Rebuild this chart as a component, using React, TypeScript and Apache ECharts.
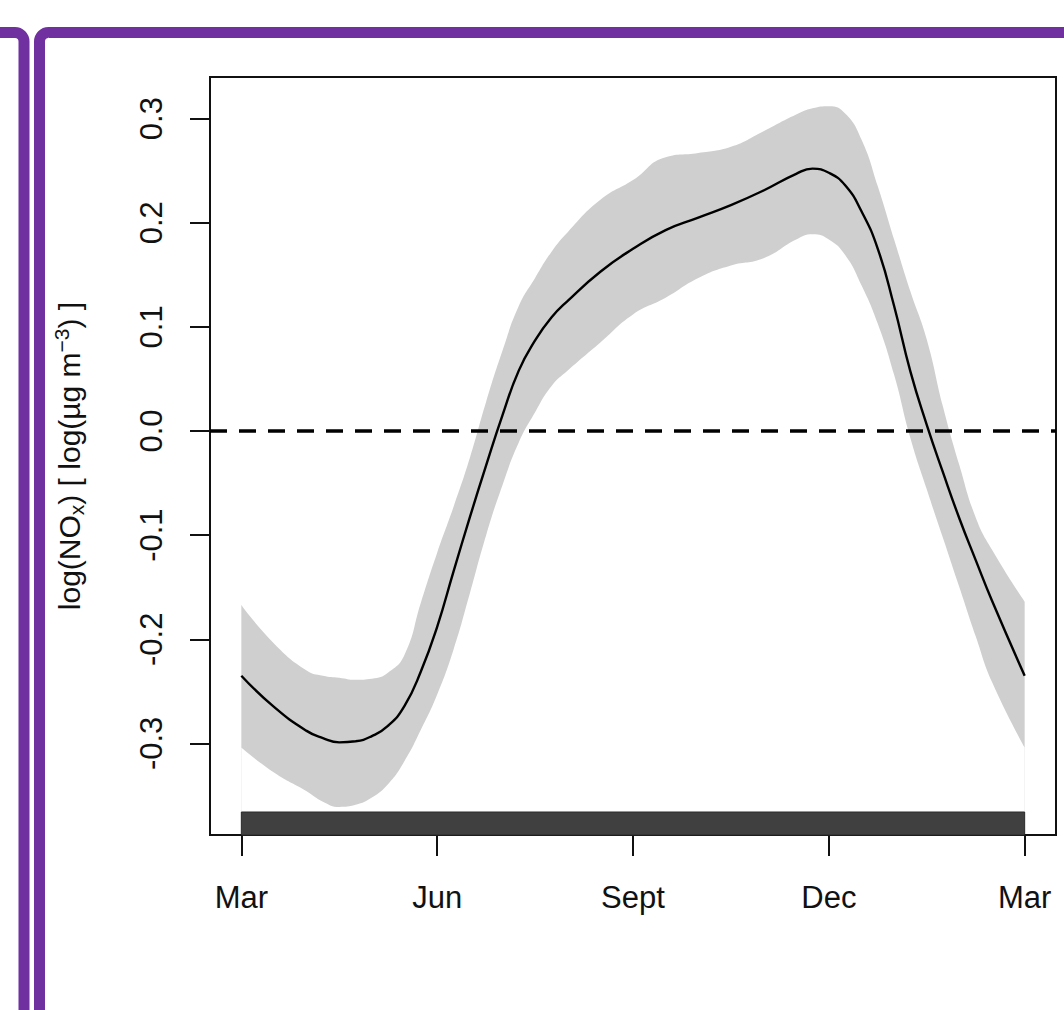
import React, { useEffect, useRef } from "react";
import * as echarts from "echarts";

// Seasonal smooth term for log(NOx): months counted from March (0) to the next March (12).
const months = [
  0, 0.5, 1, 1.25, 1.5, 1.75, 2, 2.25, 2.5, 2.75, 3, 3.25, 3.5, 3.75, 4, 4.25, 4.5, 4.75,
  5, 5.5, 6, 6.5, 7, 7.5, 8, 8.5, 8.75, 9, 9.25, 9.5, 9.75, 10, 10.25, 10.5, 10.75, 11,
  11.25, 11.5, 12,
];
const fitValues = [
  -0.235, -0.265, -0.288, -0.295, -0.299, -0.298, -0.293, -0.283, -0.264, -0.231, -0.188,
  -0.135, -0.083, -0.033, 0.015, 0.058, 0.087, 0.109, 0.125, 0.153, 0.175, 0.193, 0.205,
  0.217, 0.231, 0.247, 0.252, 0.248, 0.236, 0.211, 0.175, 0.12, 0.057, 0.006, -0.04,
  -0.084, -0.124, -0.163, -0.235,
];
const upperValues = [
  -0.167, -0.204, -0.23, -0.235, -0.237, -0.239, -0.238, -0.232, -0.215, -0.165, -0.117,
  -0.073, -0.026, 0.028, 0.077, 0.12, 0.147, 0.172, 0.191, 0.222, 0.241, 0.263, 0.267,
  0.273, 0.288, 0.304, 0.31, 0.312, 0.305, 0.28, 0.235, 0.184, 0.134, 0.088, 0.023,
  -0.033, -0.083, -0.114, -0.164,
];
const lowerValues = [
  -0.304, -0.328, -0.346, -0.356, -0.361, -0.359, -0.352, -0.339, -0.317, -0.287, -0.253,
  -0.21, -0.156, -0.1, -0.052, -0.011, 0.018, 0.043, 0.058, 0.085, 0.112, 0.128, 0.147,
  0.159, 0.166, 0.184, 0.189, 0.184, 0.169, 0.14, 0.103, 0.054, -0.007, -0.056, -0.103,
  -0.15, -0.197, -0.241, -0.304,
];

const xTickValues = [0, 3, 6, 9, 12];
const xTickLabels = ["Mar", "Jun", "Sept", "Dec", "Mar"];
const yTickValues = [-0.3, -0.2, -0.1, 0, 0.1, 0.2, 0.3];
// Observation dates cover the whole seasonal cycle.
const rugSpan = [0, 12];

const FONT = "'Liberation Sans', Arial, Helvetica, sans-serif";
const PURPLE = "#7030a0";
const SMOOTH = 0.5;
const Y_MIN = -0.388;
const Y_MAX = 0.34;
// Band areas are filled down to this level (just above the rug).
const AREA_FLOOR = -0.37;

export default function App() {
  const ref = useRef<HTMLDivElement>(null);

  useEffect(() => {
    if (!ref.current) return;
    const chart = echarts.init(ref.current, undefined, { renderer: "svg" });

    const upperData = months.map((m, i) => [m, upperValues[i]]);
    const lowerData = months.map((m, i) => [m, lowerValues[i]]);
    const fitData = months.map((m, i) => [m, fitValues[i]]);

    chart.setOption({
      animation: false,
      backgroundColor: "#ffffff",
      textStyle: { fontFamily: FONT },
      graphic: [
        {
          type: "rect",
          silent: true,
          shape: { x: 39.5, y: 32.5, width: 1200, height: 1200, r: 9 },
          style: { fill: "none", stroke: PURPLE, lineWidth: 11 },
        },
        {
          type: "rect",
          silent: true,
          shape: { x: -1176, y: 32.5, width: 1200, height: 1200, r: 9 },
          style: { fill: "none", stroke: PURPLE, lineWidth: 11 },
        },
      ],
      grid: {
        left: 210,
        top: 77,
        width: 846,
        height: 758,
        show: true,
        borderColor: "#111",
        borderWidth: 2,
        backgroundColor: "transparent",
      },
      xAxis: {
        type: "value",
        min: -0.48,
        max: 12.48,
        splitLine: { show: false },
        axisLine: { show: false, onZero: false },
        axisTick: {
          show: true,
          customValues: xTickValues,
          length: 21,
          inside: false,
          lineStyle: { color: "#111", width: 2 },
        },
        axisLabel: {
          customValues: xTickValues,
          margin: 47,
          fontSize: 31,
          fontFamily: FONT,
          color: "#111",
          formatter: (v: number) => xTickLabels[xTickValues.indexOf(v)] ?? "",
        },
      },
      yAxis: {
        type: "value",
        min: Y_MIN,
        max: Y_MAX,
        splitLine: { show: false },
        axisLine: { show: false, onZero: false },
        axisTick: {
          show: true,
          customValues: yTickValues,
          length: 20,
          inside: false,
          lineStyle: { color: "#111", width: 2 },
        },
        axisLabel: {
          customValues: yTickValues,
          rotate: 90,
          margin: 43,
          fontSize: 31,
          fontFamily: FONT,
          color: "#111",
          formatter: (v: number) => v.toFixed(1),
        },
        name: "{a|log(NO}{b|x}{a|) [ log(µg m}{c|−3}{a|) ]}",
        nameLocation: "middle",
        nameRotate: 90,
        nameGap: 123,
        nameTextStyle: {
          fontFamily: FONT,
          fontSize: 30,
          color: "#111",
          rich: {
            a: { fontFamily: FONT, fontSize: 30, color: "#111", lineHeight: 36, verticalAlign: "middle" },
            b: { fontFamily: FONT, fontSize: 21, color: "#111", lineHeight: 22, verticalAlign: "bottom" },
            c: { fontFamily: FONT, fontSize: 21, color: "#111", lineHeight: 20, verticalAlign: "top" },
          },
        },
      },
      series: [
        {
          // grey confidence band: filled below the upper bound...
          name: "upper",
          type: "line",
          data: upperData,
          smooth: SMOOTH,
          symbol: "none",
          lineStyle: { width: 0, opacity: 0 },
          areaStyle: { color: "#cfcfcf", opacity: 1, origin: AREA_FLOOR },
          silent: true,
          z: 1,
        },
        {
          // ...and cleared again below the lower bound
          name: "lower",
          type: "line",
          data: lowerData,
          smooth: SMOOTH,
          symbol: "none",
          lineStyle: { width: 0, opacity: 0 },
          areaStyle: { color: "#ffffff", opacity: 1, origin: AREA_FLOOR },
          silent: true,
          z: 2,
        },
        {
          name: "fit",
          type: "line",
          data: fitData,
          smooth: SMOOTH,
          symbol: "none",
          lineStyle: { color: "#000", width: 2.4 },
          silent: true,
          z: 3,
          markLine: {
            silent: true,
            symbol: ["none", "none"],
            label: { show: false },
            lineStyle: { color: "#000", type: [17, 12], width: 3.5 },
            data: [{ yAxis: 0 }],
          },
        },
        {
          name: "rug",
          type: "custom",
          silent: true,
          z: 4,
          data: [rugSpan],
          renderItem: (_params: any, api: any) => {
            const start = api.coord([api.value(0), Y_MIN]);
            const end = api.coord([api.value(1), Y_MIN]);
            const h = 23;
            return {
              type: "rect",
              shape: { x: start[0], y: start[1] - h, width: end[0] - start[0], height: h },
              style: { fill: "#404040", stroke: "#2a2a2a", lineWidth: 1 },
            };
          },
        },
      ],
    });

    return () => chart.dispose();
  }, []);

  return (
    <div
      ref={ref}
      style={{ position: "absolute", left: 0, top: 0, width: 1064, height: 1010, background: "#fff" }}
    />
  );
}
